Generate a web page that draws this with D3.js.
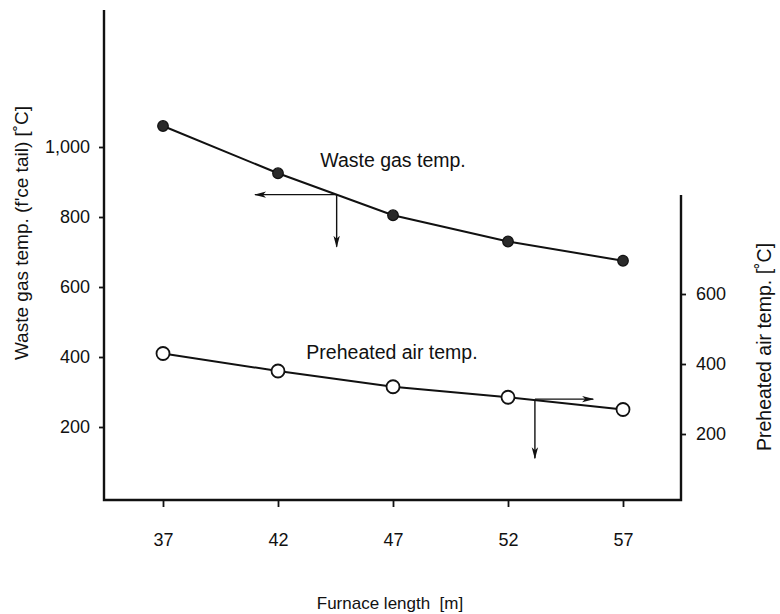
<!DOCTYPE html>
<html>
<head>
<meta charset="utf-8">
<script src="https://cdn.jsdelivr.net/npm/d3@7"></script>
<style>
  body { margin: 0; background: #fff; }
  text { font-family: "Liberation Sans", Arial, Helvetica, sans-serif; fill: #111; }
</style>
</head>
<body>
<svg id="chart" width="780" height="614"></svg>
<script>
// Furnace length vs. waste gas / preheated air temperatures
const furnaceLength = [37, 42, 47, 52, 57];
const wasteGasTemp = [1060, 925, 805, 730, 675];     // left axis
const preheatedAirTemp = [430, 380, 335, 305, 270];   // right axis
const leftTicks = [200, 400, 600, 800, 1000];
const rightTicks = [200, 400, 600];

// Read-off arrows: the point on each curve, where the side arrow ends, and where the drop arrow ends
const wasteGasReadoff = { length: 44.55, sideTo: 41.0, dropTo: 715 };
const airReadoff = { length: 53.17, sideTo: 55.7, dropTo: 131 };

const svg = d3.select("#chart");
const frame = { left: 104, right: 681, bottom: 500, leftTop: 10, rightTop: 195 };

const x = d3.scaleLinear().domain([37, 57]).range([163, 623]);
const yLeft = d3.scaleLinear().domain([0, 1400]).range([497, 7]);
const yRight = d3.scaleLinear().domain([0, 880]).range([504, 196]);

const ink = "#111";
const font = "\"Liberation Sans\", Arial, Helvetica, sans-serif";

// arrow head marker
const defs = svg.append("defs");
defs.append("marker")
  .attr("id", "head")
  .attr("viewBox", "0 0 12 8")
  .attr("refX", 11).attr("refY", 4)
  .attr("markerWidth", 12).attr("markerHeight", 8)
  .attr("markerUnits", "userSpaceOnUse")
  .attr("orient", "auto")
  .append("path")
  .attr("d", "M0,0.8 L12,4 L0,7.2 L3,4 Z")
  .attr("fill", ink);

// frame lines
svg.append("path")
  .attr("d", `M${frame.left},${frame.leftTop}V${frame.bottom}H${frame.right}V${frame.rightTop}`)
  .attr("stroke", ink).attr("stroke-width", 2.4).attr("fill", "none");

// bottom axis
const gx = svg.append("g").attr("transform", `translate(0,${frame.bottom})`)
  .call(d3.axisBottom(x).tickValues(furnaceLength).tickSize(7).tickPadding(26).tickFormat(d3.format("d")));
gx.select(".domain").remove();

// left axis
const gl = svg.append("g").attr("transform", `translate(${frame.left},0)`)
  .call(d3.axisLeft(yLeft).tickValues(leftTicks).tickSize(5).tickPadding(9).tickFormat(d3.format(",")));
gl.select(".domain").remove();

// right axis
const gr = svg.append("g").attr("transform", `translate(${frame.right},0)`)
  .call(d3.axisRight(yRight).tickValues(rightTicks).tickSize(5).tickPadding(10).tickFormat(d3.format("d")));
gr.select(".domain").remove();

svg.selectAll(".tick line").attr("stroke", ink).attr("stroke-width", 1.8);
svg.selectAll(".tick text").attr("font-size", 18).attr("fill", ink).attr("font-family", font);

// curves
const wasteLine = d3.line().x((d, i) => x(furnaceLength[i])).y(d => yLeft(d));
const airLine = d3.line().x((d, i) => x(furnaceLength[i])).y(d => yRight(d));

svg.append("path").datum(wasteGasTemp).attr("d", wasteLine)
  .attr("fill", "none").attr("stroke", ink).attr("stroke-width", 2);
svg.append("path").datum(preheatedAirTemp).attr("d", airLine)
  .attr("fill", "none").attr("stroke", ink).attr("stroke-width", 2);

svg.append("g").selectAll("circle").data(wasteGasTemp).join("circle")
  .attr("cx", (d, i) => x(furnaceLength[i])).attr("cy", d => yLeft(d))
  .attr("r", 5.3).attr("fill", "#2a2a2a").attr("stroke", ink).attr("stroke-width", 1.2);

svg.append("g").selectAll("circle").data(preheatedAirTemp).join("circle")
  .attr("cx", (d, i) => x(furnaceLength[i])).attr("cy", d => yRight(d))
  .attr("r", 6.5).attr("fill", "#fff").attr("stroke", ink).attr("stroke-width", 1.8);

// read-off arrows
const wasteAt = d3.scaleLinear().domain(furnaceLength).range(wasteGasTemp);
const airAt = d3.scaleLinear().domain(furnaceLength).range(preheatedAirTemp);

function arrow(x1, y1, x2, y2, w) {
  svg.append("line").attr("x1", x1).attr("y1", y1).attr("x2", x2).attr("y2", y2)
    .attr("stroke", ink).attr("stroke-width", w).attr("marker-end", "url(#head)");
}
{
  const px = x(wasteGasReadoff.length), py = yLeft(wasteAt(wasteGasReadoff.length));
  arrow(px, py, x(wasteGasReadoff.sideTo), py, 1.2);
  arrow(px, py, px, yLeft(wasteGasReadoff.dropTo), 1.4);
}
{
  const px = x(airReadoff.length), py = yRight(airAt(airReadoff.length));
  arrow(px, py - 1, x(airReadoff.sideTo), py - 1, 1.4);
  arrow(px, py, px, yRight(airReadoff.dropTo), 1.4);
}

// curve labels
svg.append("text").attr("x", 393).attr("y", 167).attr("text-anchor", "middle")
  .attr("font-size", 19.5).text("Waste gas temp.");
svg.append("text").attr("x", 392).attr("y", 359).attr("text-anchor", "middle")
  .attr("font-size", 19.5).text("Preheated air temp.");

// axis titles
svg.append("text").attr("transform", "translate(28,233) rotate(-90)").attr("text-anchor", "middle")
  .attr("font-size", 19).text("Waste gas temp. (f'ce tail) [˚C]");
svg.append("text").attr("transform", "translate(771,347) rotate(-90)").attr("text-anchor", "middle")
  .attr("font-size", 19.5).text("Preheated air temp. [˚C]");
svg.append("text").attr("x", 390).attr("y", 609).attr("text-anchor", "middle")
  .attr("font-size", 17).attr("xml:space", "preserve").text("Furnace length  [m]");
</script>
</body>
</html>
